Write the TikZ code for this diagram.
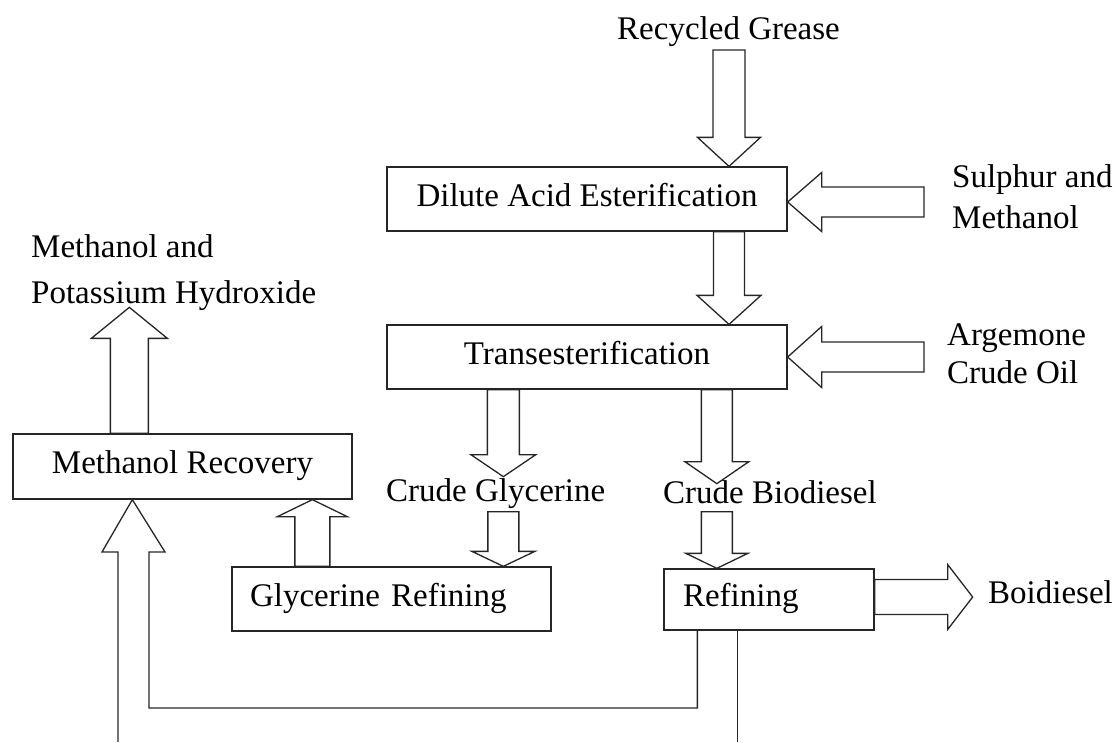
\documentclass[tikz,border=0pt]{standalone}
\usepackage{fontspec}
\setmainfont{Liberation Serif}
\usetikzlibrary{calc}
\tikzset{
  blk/.style={draw=black!85, line width=1.3pt, fill=white, line join=miter},
  pipe/.style={draw=black!85, line width=1.3pt, line join=miter},
  box/.style={draw=black!85, line width=1.3pt, fill=white, inner ysep=0pt,
              text height=23pt, text depth=9pt, font=\fontsize{33}{40}\selectfont},
  lbl/.style={anchor=base west, inner sep=0pt, font=\fontsize{33}{40}\selectfont}
}
% #1 start, #2 tip, #3 shaft half width, #4 head half width, #5 head length
\newcommand{\blockarrow}[5]{%
  \coordinate (bH) at ($(#2)!#5!(#1)$);
  \draw[blk] ($(#1)!#3!90:(#2)$) -- ($(bH)!#3!90:(#2)$) -- ($(bH)!#4!90:(#2)$)
    -- (#2) -- ($(bH)!#4!-90:(#2)$) -- ($(bH)!#3!-90:(#2)$)
    -- ($(#1)!#3!-90:(#2)$) -- cycle;}
\begin{document}
\begin{tikzpicture}[x=1pt,y=-1pt]
\useasboundingbox (0,0) rectangle (1115,742);

% boxes
\node[box, minimum width=400pt, minimum height=64pt] (dae) at (587,199) {Dilute Acid Esterification};
\node[box, minimum width=400pt, minimum height=64pt] (trans) at (587,357) {Transesterification};
\node[box, minimum width=339pt, minimum height=65pt] (mrec) at (182.5,466.5) {Methanol Recovery};
\node[box, minimum width=319pt, minimum height=64pt, inner xsep=18pt, text width=283pt, align=left] (glyref) at (391.5,599) {Glycerine Refining};
\node[box, minimum width=210pt, minimum height=61pt, inner xsep=19pt, text width=172pt, align=left] (refin) at (769,599.5) {Refining};

% labels
\node[lbl] (tRG) at (617,39) {Recycled Grease};
\node[lbl] (tSMa) at (952,187) {Sulphur and};
\node[lbl] (tSMb) at (952,228) {Methanol};
\node[lbl] (tACa) at (947,345) {Argemone};
\node[lbl] (tACb) at (947,383) {Crude Oil};
\node[lbl] (tMKa) at (31,257) {Methanol and};
\node[lbl] (tMKb) at (31,303) {Potassium Hydroxide};
\node[lbl] (tCG) at (386,501) {Crude Glycerine};
\node[lbl] (tCB) at (663,503) {Crude Biodiesel};
\node[lbl] (tBD) at (988,603) {Boidiesel};

% block arrows
\coordinate (a1s) at (729,50);
\coordinate (a1t) at (dae.north -| a1s);
\blockarrow{a1s}{a1t}{16pt}{31.5pt}{29pt}

\coordinate (a2s) at ($(dae.south)+(142,0)$);
\coordinate (a2t) at (trans.north -| a2s);
\blockarrow{a2s}{a2t}{15.5pt}{32pt}{29pt}

\coordinate (a3s) at (924,202);
\coordinate (a3t) at (dae.east |- a3s);
\blockarrow{a3s}{a3t}{15pt}{29.5pt}{34pt}

\coordinate (a4s) at (924,357);
\coordinate (a4t) at (trans.east |- a4s);
\blockarrow{a4s}{a4t}{15pt}{30.5pt}{34pt}

\coordinate (a5s) at ($(trans.south west)+(117,0)$);
\coordinate (a5t) at ($(a5s)+(0,87)$);
\blockarrow{a5s}{a5t}{16pt}{32.5pt}{22pt}

\coordinate (a6s) at ($(a5s)+(0,122)$);
\coordinate (a6t) at (glyref.north -| a6s);
\blockarrow{a6s}{a6t}{15.5pt}{31.5pt}{15pt}

\coordinate (a7s) at ($(trans.south west)+(330.5,0)$);
\coordinate (a7t) at ($(a7s)+(0,94)$);
\blockarrow{a7s}{a7t}{15.5pt}{32pt}{22pt}

\coordinate (a8s) at ($(a7s)+(0,122)$);
\coordinate (a8t) at (refin.north -| a8s);
\blockarrow{a8s}{a8t}{15.5pt}{31pt}{15pt}

\coordinate (a9s) at ($(refin.east)+(0,-2.5)$);
\coordinate (a9t) at ($(a9s)+(98,0)$);
\blockarrow{a9s}{a9t}{17.5pt}{32.5pt}{25pt}

\coordinate (a10s) at ($(glyref.north west)+(81,0)$);
\coordinate (a10t) at (mrec.south -| a10s);
\blockarrow{a10s}{a10t}{17.5pt}{35pt}{17pt}

\coordinate (a11s) at ($(mrec.north west)+(117,0)$);
\coordinate (a11t) at ($(a11s)+(0,-126)$);
\blockarrow{a11s}{a11t}{19pt}{38pt}{31pt}

% return pipe from refining to methanol recovery
\coordinate (a12t) at ($(mrec.south west)+(120,0)$);
\coordinate (p1) at ($(refin.south west)+(34,0)$);
\coordinate (p2) at ($(refin.south west)+(74,0)$);
\coordinate (bot) at (0,742);
\draw[pipe] (118,742) -- (118,552) -- (102,552) -- (a12t) -- (165,552)
  -- (149,552) -- (149,708) -| (p1);
\draw[pipe] (p2) -- (p2 |- bot);
\end{tikzpicture}
\end{document}
